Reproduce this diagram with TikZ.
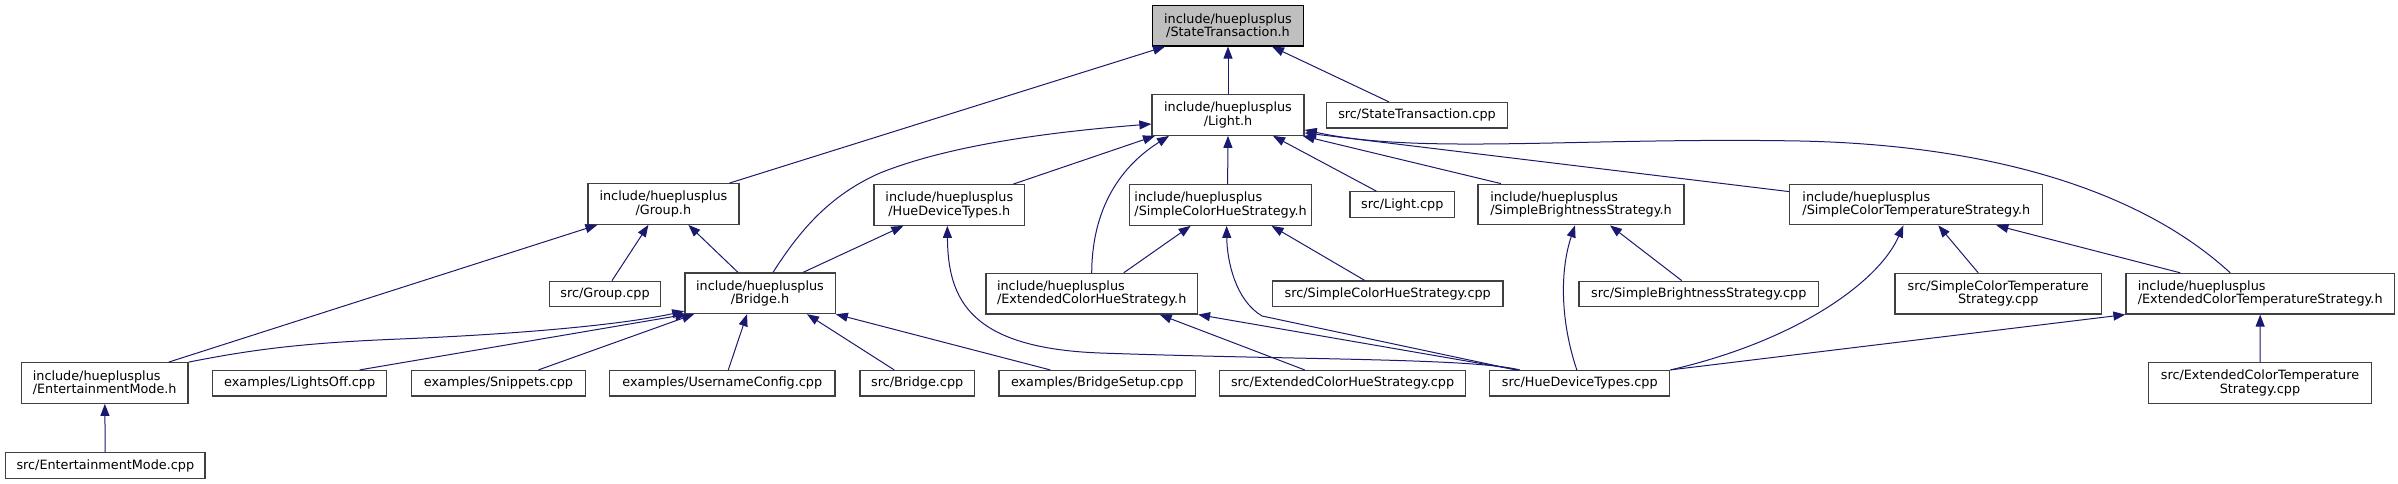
\documentclass[tikz,border=0pt]{standalone}
\usepackage{fontspec}
\setmainfont{DejaVu Sans}
\usetikzlibrary{arrows.meta,positioning}
\definecolor{edgeblue}{HTML}{191970}
\definecolor{boxgray}{HTML}{404040}
\definecolor{rootfill}{HTML}{BFBFBF}
\tikzset{
  file/.style={
    draw = boxgray,
    fill = white,
    line width = 1.3pt,
    inner sep = 2pt,
    font = \fontsize{12.8}{13.3}\selectfont,
    minimum height = 25.5pt
  },
  twoline/.style={
    file,
    minimum height = 40.5pt
  },
  root/.style={
    twoline,
    draw = black,
    fill = rootfill
  },
  dep/.style={
    draw = edgeblue,
    line width = 1pt,
    -{Triangle[length=12pt,width=9pt]}
  }
}

\begin{document}
\begin{tikzpicture}[x=1pt, y=-1pt]
    \useasboundingbox (0,0) rectangle (2398,484);
    % top rows
    \node[root, align=center, minimum width=151pt] (statetrans) at (1228,25.7) {include/hueplusplus\\/StateTransaction.h};
    \node[twoline, align=center, minimum width=152pt] (light) at (1228,115) {include/hueplusplus\\/Light.h};
    \node[file, minimum width=181pt] (statetranscpp) at (1417,115.3) {src/StateTransaction.cpp};
    \node[twoline, align=center, minimum width=151pt] (group) at (663.4,204) {include/hueplusplus\\/Group.h};
    \node[twoline, align=center, minimum width=150.5pt] (devtypes) at (949.3,205) {include/hueplusplus\\/HueDeviceTypes.h};
    \node[twoline, align=left, minimum width=182pt] (simplehue) at (1220.6,205) {include/hueplusplus\\/SimpleColorHueStrategy.h};
    \node[file, minimum width=104.6pt] (lightcpp) at (1402.3,204.5) {src/Light.cpp};
    \node[twoline, align=left, minimum width=206pt] (brightness) at (1581,204.5) {include/hueplusplus\\/SimpleBrightnessStrategy.h};
    \node[twoline, align=left, minimum width=253pt] (simpletemp) at (1916.3,204.5) {include/hueplusplus\\/SimpleColorTemperatureStrategy.h};
    % middle row
    \node[file, minimum width=111pt] (groupcpp) at (605,294) {src/Group.cpp};
    \node[twoline, align=center, minimum width=150.3pt] (bridge) at (760,293.3) {include/hueplusplus\\/Bridge.h};
    \node[twoline, align=left, minimum width=211.4pt] (extendedhue) at (1091.7,293.7) {include/hueplusplus\\/ExtendedColorHueStrategy.h};
    \node[file, minimum width=230.6pt] (simplehuecpp) at (1387.7,293.8) {src/SimpleColorHueStrategy.cpp};
    \node[file, minimum width=239.4pt] (brightnesscpp) at (1698.7,294) {src/SimpleBrightnessStrategy.cpp};
    \node[twoline, align=center, minimum width=206.6pt] (simpletempcpp) at (1998.2,293.7) {src/SimpleColorTemperature\\Strategy.cpp};
    \node[twoline, align=left, minimum width=268.4pt] (extendedtemp) at (2260.2,293.7) {include/hueplusplus\\/ExtendedColorTemperatureStrategy.h};
    % bottom rows
    \node[twoline, align=left, minimum width=166.6pt] (entertain) at (104.7,383) {include/hueplusplus\\/EntertainmentMode.h};
    \node[file, minimum width=174pt] (lightsoff) at (299.7,383.3) {examples/LightsOff.cpp};
    \node[file, minimum width=173.5pt] (snippets) at (498.5,383.3) {examples/Snippets.cpp};
    \node[file, minimum width=225.3pt] (username) at (722.3,383.3) {examples/UsernameConfig.cpp};
    \node[file, minimum width=114.5pt] (bridgecpp) at (917.2,383.3) {src/Bridge.cpp};
    \node[file, minimum width=196.4pt] (bridgesetup) at (1097.2,383.3) {examples/BridgeSetup.cpp};
    \node[file, minimum width=246.4pt] (extendedhuecpp) at (1342.6,383.3) {src/ExtendedColorHueStrategy.cpp};
    \node[file, minimum width=180pt] (devtypescpp) at (1579.8,383.3) {src/HueDeviceTypes.cpp};
    \node[twoline, align=center, minimum width=223pt] (extendedtempcpp) at (2260,383) {src/ExtendedColorTemperature\\Strategy.cpp};
    \node[file, minimum width=199.4pt] (entertaincpp) at (105.3,465.5) {src/EntertainmentMode.cpp};
    % includes
    \draw[dep] ([xshift=66pt]group.north) -- ([xshift=-63pt]statetrans.south);
    \draw[dep] (light) -- (statetrans);
    \draw[dep] ([xshift=-28pt]statetranscpp.north) -- ([xshift=44pt]statetrans.south);
    \draw[dep] ([xshift=13pt]bridge.north) .. controls (800,230) and (830,195) .. (880,173) .. controls (950,145) and (1050,132) .. ([yshift=-9pt]light.west);
    \draw[dep] ([xshift=64pt]devtypes.north) -- ([xshift=-73pt]light.south);
    \draw[dep] (extendedhue.north) .. controls (1092,215) and (1115,170) .. ([xshift=-59pt]light.south);
    \draw[dep] ([xshift=7pt]simplehue.north) -- (light.south);
    \draw[dep] ([xshift=-26pt]lightcpp.north) -- ([xshift=45pt]light.south);
    \draw[dep] ([xshift=-80pt]brightness.north) -- ([xshift=-2pt]light.south east);
    \draw[dep] ([yshift=-8pt]simpletemp.north west) -- ([yshift=3pt]light.south east);
    \draw[dep] ([xshift=-30pt]extendedtemp.north) .. controls (2140,190) and (1990,145) .. (1800,141) .. controls (1580,137) and (1420,155) .. ([yshift=6pt]light.south east);
    \draw[dep] ([xshift=64pt]entertain.north) -- ([xshift=-66pt]group.south);
    \draw[dep] ([xshift=7pt]groupcpp.north) -- ([xshift=-15pt]group.south);
    \draw[dep] ([xshift=-22pt]bridge.north) -- ([xshift=25pt]group.south);
    \draw[dep] ([xshift=43pt]bridge.north) -- ([xshift=-46pt]devtypes.south);
    \draw[dep] ([xshift=-60pt]devtypescpp.north) .. controls (1470,358) and (1300,360) .. (1100,353) .. controls (970,348) and (948,300) .. ([xshift=-2pt]devtypes.south);
    \draw[dep] ([xshift=32pt]extendedhue.north) -- ([xshift=-30pt]simplehue.south);
    \draw[dep] ([xshift=-64pt]devtypescpp.north) -- (1262,316) .. controls (1235,300) and (1227,260) .. ([xshift=6pt]simplehue.south);
    \draw[dep] ([xshift=-23pt]simplehuecpp.north) -- ([xshift=51pt]simplehue.south);
    \draw[dep] ([xshift=-3pt]devtypescpp.north) .. controls (1560,320) and (1560,270) .. ([xshift=-6pt]brightness.south);
    \draw[dep] ([xshift=-17pt]brightnesscpp.north) -- ([xshift=29pt]brightness.south);
    \draw[dep] (devtypescpp.north east) .. controls (1800,340) and (1880,280) .. ([xshift=-13pt]simpletemp.south);
    \draw[dep] ([xshift=-20pt]simpletempcpp.north) -- ([xshift=22pt]simpletemp.south);
    \draw[dep] ([xshift=-80pt]extendedtemp.north) -- ([xshift=80pt]simpletemp.south);
    \draw[dep] (entertain.north east) .. controls (250,350) and (300,343) .. (400,339) .. controls (520,334) and (620,325) .. ([yshift=3pt]bridge.south west);
    \draw[dep] ([xshift=60pt]lightsoff.north) -- ([xshift=3pt]bridge.south west);
    \draw[dep] ([xshift=40pt]snippets.north) -- ([xshift=-66pt]bridge.south);
    \draw[dep] ([xshift=6pt]username.north) -- ([xshift=-13pt]bridge.south);
    \draw[dep] ([xshift=-23pt]bridgecpp.north) -- ([xshift=47pt]bridge.south);
    \draw[dep] ([xshift=-47pt]bridgesetup.north) -- (bridge.south east);
    \draw[dep] ([xshift=-38pt]extendedhuecpp.north) -- ([xshift=68pt]extendedhue.south);
    \draw[dep] ([xshift=-62pt]devtypescpp.north) -- (extendedhue.south east);
    \draw[dep] (devtypescpp.north east) -- (extendedtemp.south west);
    \draw[dep] (extendedtempcpp) -- (extendedtemp);
    \draw[dep] (entertaincpp) -- (entertain);
\end{tikzpicture}
\end{document}
